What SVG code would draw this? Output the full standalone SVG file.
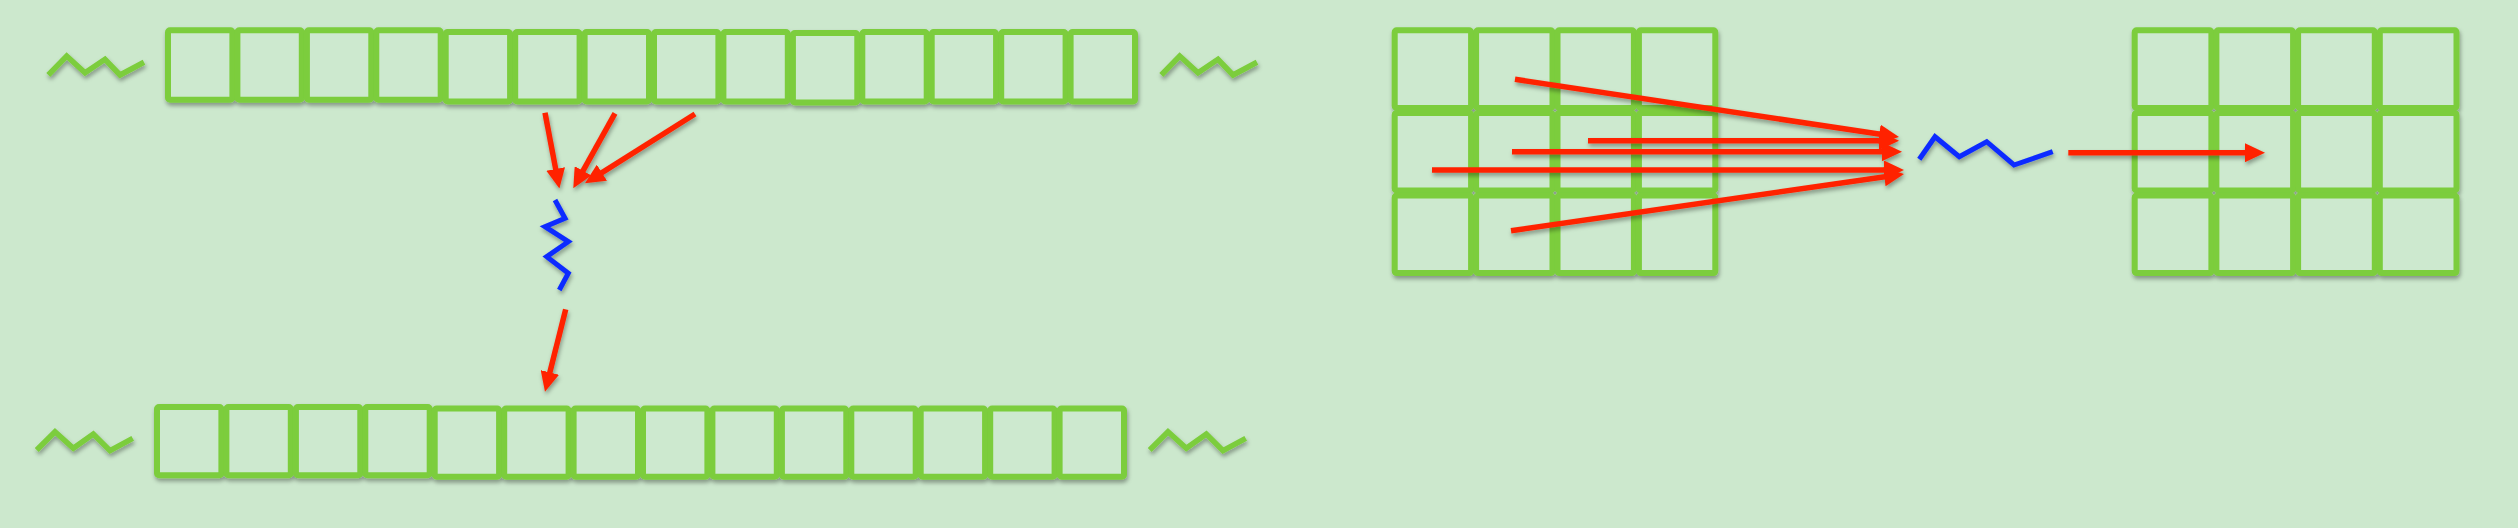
<svg xmlns="http://www.w3.org/2000/svg" width="2518" height="528" viewBox="0 0 2518 528">
<defs>
<style>
.bg{fill:#cce8cd}
.cell{fill:#cde9cf;stroke:#7bcd3c;stroke-width:6;stroke-linejoin:round}
.squig{fill:none;stroke:#7bcd3c;stroke-width:5.5;stroke-linejoin:miter;stroke-linecap:butt}
.blue{fill:none;stroke:#0a2cff;stroke-width:5;stroke-linejoin:miter}
.arr{fill:none;stroke:#ff2400;stroke-width:5.5;marker-end:url(#ah)}
</style>
<filter id="sh" x="-10%" y="-20%" width="120%" height="150%">
<feDropShadow dx="1" dy="3" stdDeviation="2" flood-color="#000" flood-opacity="0.35"/>
</filter>
<marker id="ah" markerUnits="userSpaceOnUse" viewBox="0 0 20 19" markerWidth="20" markerHeight="19" refX="13" refY="9.5" orient="auto">
<path d="M0,0 L20,9.5 L0,19 z" fill="#ff2400"/>
</marker>
</defs>
<rect class="bg" x="0" y="0" width="2518" height="528"/>

<g id="top-row" filter="url(#sh)">
<rect class="cell" x="168" y="30.3" width="64.4" height="69.4" rx="2"/>
<rect class="cell" x="237.4" y="30.3" width="64.4" height="69.4" rx="2"/>
<rect class="cell" x="306.9" y="30.3" width="64.4" height="69.4" rx="2"/>
<rect class="cell" x="376.3" y="30.3" width="64.4" height="69.4" rx="2"/>
<rect class="cell" x="445.7" y="32" width="64.4" height="69.4" rx="2"/>
<rect class="cell" x="515.2" y="32" width="64.4" height="69.4" rx="2"/>
<rect class="cell" x="584.6" y="32" width="64.4" height="69.4" rx="2"/>
<rect class="cell" x="654" y="32" width="64.4" height="69.4" rx="2"/>
<rect class="cell" x="723.4" y="32" width="64.4" height="69.4" rx="2"/>
<rect class="cell" x="792.9" y="33" width="64.4" height="69.4" rx="2"/>
<rect class="cell" x="862.3" y="32" width="64.4" height="69.4" rx="2"/>
<rect class="cell" x="931.7" y="32" width="64.4" height="69.4" rx="2"/>
<rect class="cell" x="1001.2" y="32" width="64.4" height="69.4" rx="2"/>
<rect class="cell" x="1070.6" y="32" width="64.4" height="69.4" rx="2"/>
</g>

<g id="bottom-row" filter="url(#sh)">
<rect class="cell" x="157" y="407" width="64.4" height="68.3" rx="2"/>
<rect class="cell" x="226.4" y="407" width="64.4" height="68.3" rx="2"/>
<rect class="cell" x="295.9" y="407" width="64.4" height="68.3" rx="2"/>
<rect class="cell" x="365.3" y="407" width="64.4" height="68.3" rx="2"/>
<rect class="cell" x="434.7" y="408.5" width="64.4" height="68.3" rx="2"/>
<rect class="cell" x="504.2" y="408.5" width="64.4" height="68.3" rx="2"/>
<rect class="cell" x="573.6" y="408.5" width="64.4" height="68.3" rx="2"/>
<rect class="cell" x="643" y="408.5" width="64.4" height="68.3" rx="2"/>
<rect class="cell" x="712.4" y="408.5" width="64.4" height="68.3" rx="2"/>
<rect class="cell" x="781.9" y="408.5" width="64.4" height="68.3" rx="2"/>
<rect class="cell" x="851.3" y="408.5" width="64.4" height="68.3" rx="2"/>
<rect class="cell" x="920.7" y="408.5" width="64.4" height="68.3" rx="2"/>
<rect class="cell" x="990.2" y="408.5" width="64.4" height="68.3" rx="2"/>
<rect class="cell" x="1059.6" y="408.5" width="64.4" height="68.3" rx="2"/>
</g>

<g id="squiggles" filter="url(#sh)">
<polyline class="squig" points="48.3,75 66.7,56 85,72.7 105,59.3 120,75 144,62.3"/>
<polyline class="squig" points="1161.3,75 1179.7,56 1198,72.7 1218,59.3 1233,75 1257,62.3"/>
<polyline class="squig" points="36.7,450 55,431.7 73.3,448.3 93.3,434 110,450.7 132.7,438.3"/>
<polyline class="squig" points="1149.7,450 1168,431.7 1186.3,448.3 1206.3,434 1223,450.7 1245.7,438.3"/>
</g>

<g id="grid-left" filter="url(#sh)">
<rect class="cell" x="1394.7" y="30.3" width="76.4" height="77.6" rx="2"/>
<rect class="cell" x="1476.1" y="30.3" width="76.4" height="77.6" rx="2"/>
<rect class="cell" x="1557.5" y="30.3" width="76.4" height="77.6" rx="2"/>
<rect class="cell" x="1638.9" y="30.3" width="76.4" height="77.6" rx="2"/>
<rect class="cell" x="1394.7" y="112.9" width="76.4" height="77.6" rx="2"/>
<rect class="cell" x="1476.1" y="112.9" width="76.4" height="77.6" rx="2"/>
<rect class="cell" x="1557.5" y="112.9" width="76.4" height="77.6" rx="2"/>
<rect class="cell" x="1638.9" y="112.9" width="76.4" height="77.6" rx="2"/>
<rect class="cell" x="1394.7" y="195.5" width="76.4" height="77.6" rx="2"/>
<rect class="cell" x="1476.1" y="195.5" width="76.4" height="77.6" rx="2"/>
<rect class="cell" x="1557.5" y="195.5" width="76.4" height="77.6" rx="2"/>
<rect class="cell" x="1638.9" y="195.5" width="76.4" height="77.6" rx="2"/>
</g>

<g id="grid-right" filter="url(#sh)">
<rect class="cell" x="2134.7" y="30.3" width="76.7" height="77.6" rx="2"/>
<rect class="cell" x="2216.4" y="30.3" width="76.7" height="77.6" rx="2"/>
<rect class="cell" x="2298.1" y="30.3" width="76.7" height="77.6" rx="2"/>
<rect class="cell" x="2379.8" y="30.3" width="76.7" height="77.6" rx="2"/>
<rect class="cell" x="2134.7" y="112.9" width="76.7" height="77.6" rx="2"/>
<rect class="cell" x="2216.4" y="112.9" width="76.7" height="77.6" rx="2"/>
<rect class="cell" x="2298.1" y="112.9" width="76.7" height="77.6" rx="2"/>
<rect class="cell" x="2379.8" y="112.9" width="76.7" height="77.6" rx="2"/>
<rect class="cell" x="2134.7" y="195.5" width="76.7" height="77.6" rx="2"/>
<rect class="cell" x="2216.4" y="195.5" width="76.7" height="77.6" rx="2"/>
<rect class="cell" x="2298.1" y="195.5" width="76.7" height="77.6" rx="2"/>
<rect class="cell" x="2379.8" y="195.5" width="76.7" height="77.6" rx="2"/>
</g>

<g id="kernels" filter="url(#sh)">
<polyline class="blue" points="555,200 565,218.3 545,226.7 568.3,241.7 546.7,256.7 568.3,273.3 559.3,290"/>
<polyline class="blue" points="1919.3,159.3 1935,136.7 1959.3,156.7 1986.7,141.7 2014,165 2052.7,151.7"/>
</g>

<g id="connectors" filter="url(#sh)">
<line class="arr" x1="545" y1="112.7" x2="558.1" y2="181.7"/>
<line class="arr" x1="615" y1="113.3" x2="576.7" y2="182.2"/>
<line class="arr" x1="695" y1="114" x2="590.9" y2="179.6"/>
<line class="arr" x1="565.7" y1="309.3" x2="546.7" y2="385"/>
<line class="arr" x1="1515" y1="79.3" x2="1892.1" y2="136"/>
<line class="arr" x1="1588" y1="140.7" x2="1892" y2="140.7"/>
<line class="arr" x1="1512" y1="151.7" x2="1895" y2="151.7"/>
<line class="arr" x1="1432" y1="170" x2="1897" y2="170"/>
<line class="arr" x1="1511" y1="230.7" x2="1897.1" y2="175"/>
<line class="arr" x1="2068.3" y1="152.7" x2="2258" y2="152.7"/>
</g>
</svg>
